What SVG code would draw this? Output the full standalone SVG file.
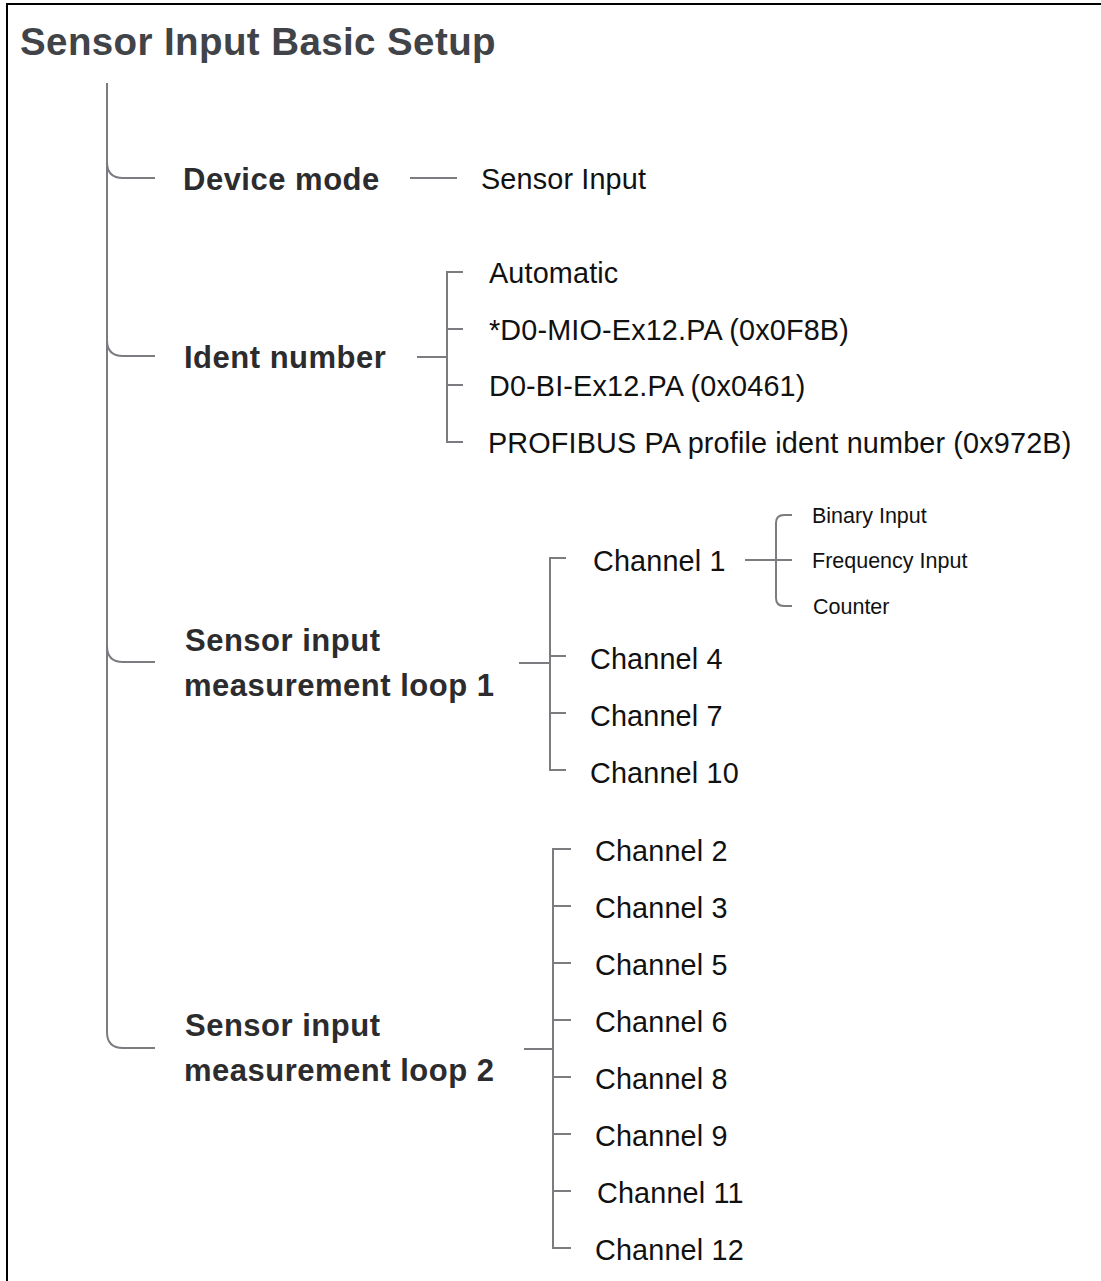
<svg xmlns="http://www.w3.org/2000/svg" width="1101" height="1281" viewBox="0 0 1101 1281">
<style>
.ln{fill:none;stroke:#7b7b80;stroke-width:2}
.title{font-family:"Liberation Sans",Arial,sans-serif;font-weight:bold;font-size:38.5px;letter-spacing:0.4px;fill:#404347}
.b{font-family:"Liberation Sans",Arial,sans-serif;font-weight:bold;font-size:31px;letter-spacing:0.5px;fill:#2c2c2e}
.r{font-family:"Liberation Sans",Arial,sans-serif;font-size:28.8px;letter-spacing:0.15px;fill:#111}
.s{font-family:"Liberation Sans",Arial,sans-serif;font-size:21.5px;fill:#111}
</style>
<rect x="0" y="0" width="1101" height="1281" fill="#fff"/>
<path d="M7,1281 V4 H1101" fill="none" stroke="#000" stroke-width="2"/>
<text class="title" x="20" y="55">Sensor Input Basic Setup</text>
<g id="connectors">
  <path class="ln" d="M107,83 V1032 Q107,1048 123,1048 H155"/>
  <path class="ln" d="M107,162 Q107,178 123,178 H155"/>
  <path class="ln" d="M107,340 Q107,356 123,356 H155"/>
  <path class="ln" d="M107,646 Q107,662 123,662 H155"/>
  <path class="ln" d="M410,178 H457"/>
  <path class="ln" d="M417,357 H447 M463,272 H447 V442 H463 M447,329 H463 M447,385 H463"/>
  <path class="ln" d="M519,663 H550 M566,558 H550 V770 H566 M550,656 H566 M550,713 H566"/>
  <path class="ln" d="M745,560 H792 M792,515 H784 Q776,515 776,523 V598 Q776,606 784,606 H792"/>
  <path class="ln" d="M524,1049 H553 M571,849 H553 V1248 H571 M553,906 H571 M553,963 H571 M553,1020 H571 M553,1077 H571 M553,1134 H571 M553,1191 H571"/>
</g>
<g id="device-mode"><text class="b" x="183" y="190">Device mode</text></g>
<g id="sensor-input"><text class="r" x="481" y="189">Sensor Input</text></g>
<g id="ident-number"><text class="b" x="184" y="368">Ident number</text></g>
<g id="ident-automatic"><text class="r" x="489" y="283">Automatic</text></g>
<g id="ident-mio"><text class="r" x="489" y="340">*D0-MIO-Ex12.PA (0x0F8B)</text></g>
<g id="ident-bi"><text class="r" x="489" y="396">D0-BI-Ex12.PA (0x0461)</text></g>
<g id="ident-profibus"><text class="r" x="488" y="453">PROFIBUS PA profile ident number (0x972B)</text></g>
<g id="loop1"><text class="b" x="185" y="651">Sensor input</text><text class="b" x="184" y="696">measurement loop 1</text></g>
<g id="ch1"><text class="r" x="593" y="571">Channel 1</text></g>
<g id="binary"><text class="s" x="812" y="523">Binary Input</text></g>
<g id="frequency"><text class="s" x="812" y="568">Frequency Input</text></g>
<g id="counter"><text class="s" x="813" y="614">Counter</text></g>
<g id="ch4"><text class="r" x="590" y="669">Channel 4</text></g>
<g id="ch7"><text class="r" x="590" y="726">Channel 7</text></g>
<g id="ch10"><text class="r" x="590" y="783">Channel 10</text></g>
<g id="loop2"><text class="b" x="185" y="1036">Sensor input</text><text class="b" x="184" y="1081">measurement loop 2</text></g>
<g id="ch2"><text class="r" x="595" y="861">Channel 2</text></g>
<g id="ch3"><text class="r" x="595" y="918">Channel 3</text></g>
<g id="ch5"><text class="r" x="595" y="975">Channel 5</text></g>
<g id="ch6"><text class="r" x="595" y="1032">Channel 6</text></g>
<g id="ch8"><text class="r" x="595" y="1089">Channel 8</text></g>
<g id="ch9"><text class="r" x="595" y="1146">Channel 9</text></g>
<g id="ch11"><text class="r" x="597" y="1203">Channel 11</text></g>
<g id="ch12"><text class="r" x="595" y="1260">Channel 12</text></g>
</svg>
